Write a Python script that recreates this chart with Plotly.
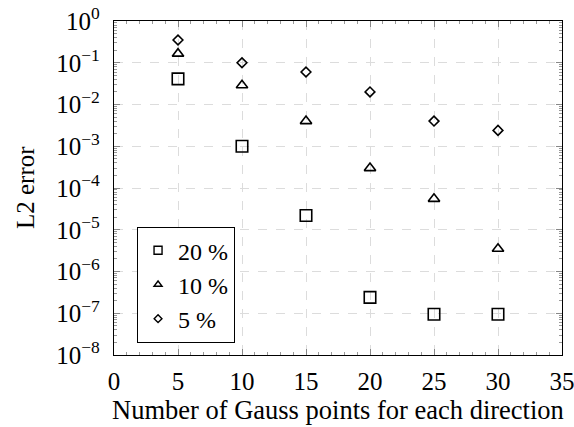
import plotly.graph_objects as go

x_points = [5, 10, 15, 20, 25, 30]
err_20 = [0.041, 1.0e-3, 2.2e-5, 2.4e-7, 9.5e-8, 9.5e-8]
err_10 = [0.165, 0.029, 0.004, 3.0e-4, 5.5e-5, 3.5e-6]
err_5 = [0.35, 0.10, 0.06, 0.02, 0.004, 0.0024]

series_names = ["20 %", "10 %", "5 %"]
y_exponents = [0, -1, -2, -3, -4, -5, -6, -7, -8]
y_tickvals = [10.0 ** e for e in y_exponents]
y_ticktext = ["10<sup>%s</sup>" % (str(e).replace("-", "−")) for e in y_exponents]
x_tickvals = [0, 5, 10, 15, 20, 25, 30, 35]
x_title = "Number of Gauss points for each direction"
y_title = "L2 error"

FONT = "Liberation Serif, DejaVu Serif, serif"

fig = go.Figure()
symbols = ["square-open", "triangle-up-open", "diamond-open"]
sizes = [11.5, 10, 7.5]
legend_sizes = [8, 7, 6]
series = [err_20, err_10, err_5]
for name, vals, sym, sz in zip(series_names, series, symbols, sizes):
    fig.add_trace(go.Scatter(
        x=x_points, y=vals, mode="markers", name=name, showlegend=False,
        marker=dict(symbol=sym, size=sz, color="black",
                    line=dict(color="black", width=1.6)),
    ))
# legend entries (smaller symbols, as in the reference legend)
for name, sym, sz in zip(series_names, symbols, legend_sizes):
    fig.add_trace(go.Scatter(
        x=[None], y=[None], mode="markers", name=name, showlegend=True,
        marker=dict(symbol=sym, size=sz, color="black",
                    line=dict(color="black", width=1.4)),
    ))

fig.update_layout(
    width=574, height=427,
    margin=dict(l=114, r=12, t=21, b=72),
    paper_bgcolor="white", plot_bgcolor="white",
    font=dict(family=FONT, size=24, color="black"),
    showlegend=True,
    legend=dict(
        x=0.051, y=0.036, xanchor="left", yanchor="bottom",
        bgcolor="white", bordercolor="black", borderwidth=1.2,
        font=dict(family=FONT, size=24, color="black"),
        itemwidth=30, tracegroupgap=0,
    ),
    xaxis=dict(
        range=[0, 35], tickvals=x_tickvals, automargin=False,
        ticklabeloverflow="allow",
        showline=True, linecolor="black", linewidth=1.3, mirror="allticks",
        ticks="inside", ticklen=6, tickcolor="#888", tickwidth=1,
        showgrid=True, gridcolor="#dcdcdc", griddash="dash", gridwidth=1,
        zeroline=False,
        minor=dict(dtick=1, ticks="inside", ticklen=3, tickcolor="#999", showgrid=False),
        tickfont=dict(family=FONT, size=25),
        ticklabelstandoff=4,
    ),
    yaxis=dict(
        type="log", range=[-8, 0], tickvals=y_tickvals, ticktext=y_ticktext,
        automargin=False, ticklabeloverflow="allow",
        showline=True, linecolor="black", linewidth=1.3, mirror="allticks",
        ticks="inside", ticklen=6, tickcolor="#888", tickwidth=1,
        showgrid=True, gridcolor="#dcdcdc", griddash="dash", gridwidth=1,
        zeroline=False,
        minor=dict(dtick="D1", ticks="inside", ticklen=3, tickcolor="#999", showgrid=False),
        tickfont=dict(family=FONT, size=25),
        ticklabelstandoff=8,
    ),
    annotations=[
        dict(text=y_title, textangle=-90, showarrow=False,
             xref="paper", yref="paper", x=-(114 - 25) / 448, y=0.5,
             xanchor="center", yanchor="middle",
             font=dict(family=FONT, size=25, color="black")),
        dict(text=x_title, showarrow=False,
             xref="paper", yref="paper", x=0.5, y=-(410 - 355) / 334,
             xanchor="center", yanchor="middle",
             font=dict(family=FONT, size=26.5, color="black")),
    ],
)

# remove the default 8px page margin so the figure fills the window exactly
fig.write_html("out.html",
               config={"displayModeBar": False},
               post_script="document.body.style.margin='0';document.body.style.overflow='hidden';")
